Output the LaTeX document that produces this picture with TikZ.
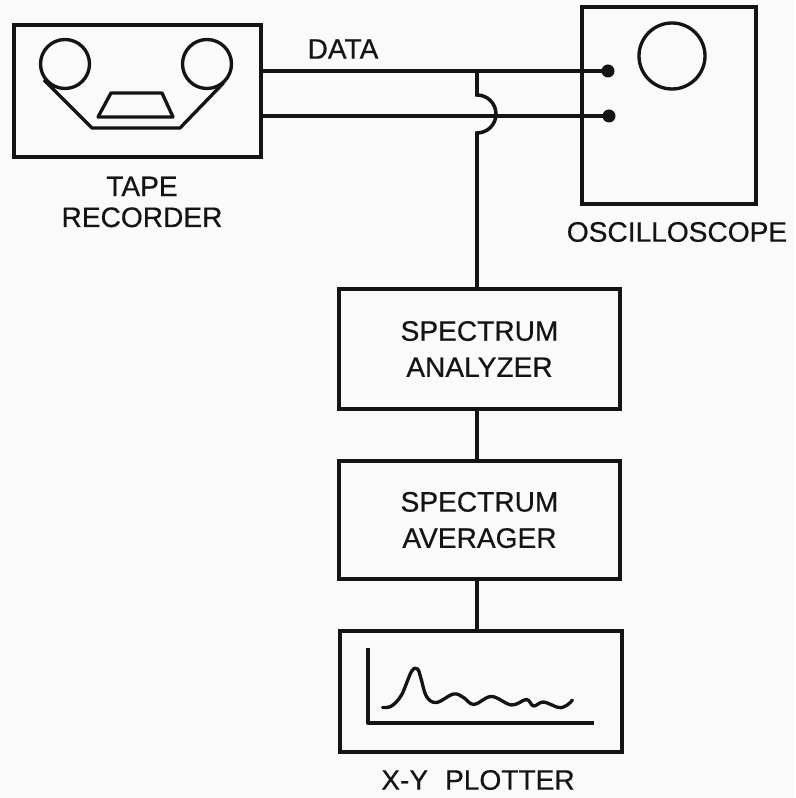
\documentclass[tikz,border=0pt]{standalone}
\usepackage{fontspec}
\setmainfont[FakeBold=0.5]{Liberation Sans}
\usepackage{xcolor}
\definecolor{paper}{gray}{0.98}
\definecolor{ink}{gray}{0.08}
\begin{document}
\begin{tikzpicture}[font=\fontsize{16}{17.6}\selectfont,color=ink,
  box/.style={draw=ink,line width=2.2pt,align=center,inner sep=0},
  reel/.style={draw=ink,circle,line width=1.9pt,inner sep=0},
  dot/.style={fill=ink,circle,minimum size=0.26cm,inner sep=0},
  lbl/.style={align=center,inner sep=0},
  wire/.style={line width=2pt},
  sketch/.style={line width=1.9pt,line join=round}]
\useasboundingbox[fill=paper] (0,0) rectangle (15.9,15.96);

% ---- top row : recorder and scope
\node[box,minimum width=4.94cm,minimum height=2.64cm] (tape) at (2.75,14.14) {};
\node[reel,minimum size=0.98cm] (reelL) at (1.30,14.68) {};
\node[reel,minimum size=0.98cm] (reelR) at (4.14,14.68) {};
\draw[sketch] (0.88,14.36)--(1.84,13.40)--(3.60,13.40)--(4.47,14.30);
\draw[sketch] (1.96,13.62)--(2.22,14.10)--(3.24,14.10)--(3.46,13.62)--cycle;
\node[lbl] (tapelbl) at (2.84,11.92) {TAPE\\RECORDER};

\node[box,minimum width=3.48cm,minimum height=3.94cm] (scope) at (13.38,13.85) {};
\node[reel,minimum size=1.32cm] (screen) at (13.44,14.84) {};
\node[dot] (dotA) at (12.16,14.54) {};
\node[dot] (dotB) at (12.18,13.64) {};
\node[lbl] (scopelbl) at (13.54,11.32) {OSCILLOSCOPE};

% ---- data lines
\node[lbl] (data) at (6.86,14.98) {DATA};
\draw[wire] (dotA -| tape.east)--(dotA.center);
\draw[wire] (dotB -| tape.east)--(dotB.center);

% ---- analyzer chain
\node[box,minimum width=5.62cm,minimum height=2.40cm] (ana) at (9.59,8.98) {SPECTRUM\\[3pt]ANALYZER};
\node[box,minimum width=5.62cm,minimum height=2.36cm] (ave) at (9.59,5.56) {SPECTRUM\\[3pt]AVERAGER};
\node[box,minimum width=5.64cm,minimum height=2.42cm] (plot) at (9.62,2.13) {};
\node[lbl] (plotlbl) at (9.56,0.36) {X-Y\hspace{0.6em}PLOTTER};

\coordinate (tap) at (9.54,14.54);
\coordinate (hop) at (9.54,14.06);
\draw[wire] (tap)--(hop) arc[start angle=90,end angle=-90,radius=0.38]--(tap |- ana.north);
\draw[wire] (tap |- ana.south)--(tap |- ave.north);
\draw[wire] (tap |- ave.south)--(tap |- plot.north);

% ---- plotter trace
\draw[sketch] (7.36,3.00)--(7.36,1.50)--(11.88,1.50);
\draw[sketch,line cap=round] plot[smooth,tension=0.6] coordinates {
  (7.65,1.81) (7.83,1.84) (8.03,2.06) (8.23,2.53) (8.35,2.58) (8.42,2.39)
  (8.53,2.03) (8.73,1.91) (9.07,2.08) (9.27,2.01) (9.48,1.87) (9.83,2.03)
  (10.23,1.86) (10.53,1.97) (10.67,1.84) (10.87,1.92) (11.17,1.81)
  (11.33,1.85) (11.45,1.96)};
\end{tikzpicture}
\end{document}
